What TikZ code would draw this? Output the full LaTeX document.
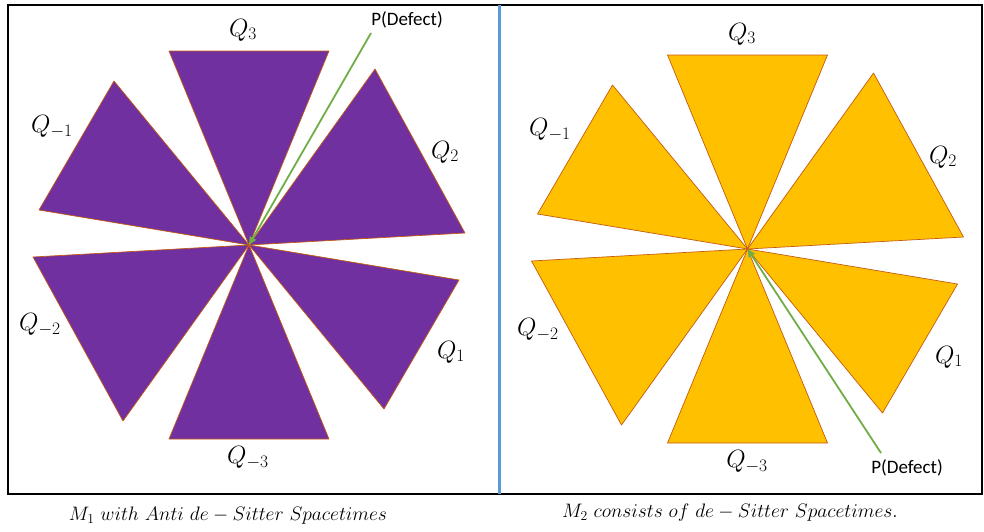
\RequirePackage{fix-cm}
\documentclass[tikz,border=0pt]{standalone}
\usepackage{fontspec}
\newfontfamily\calibri{Carlito}
\usetikzlibrary{arrows.meta, positioning}
\definecolor{moradoOffice}{HTML}{7030A0}
\definecolor{ambarOffice}{HTML}{FFC000}
\definecolor{bordeNaranja}{HTML}{C55A11}
\definecolor{verdeOffice}{HTML}{70AD47}
\definecolor{azulOffice}{HTML}{5B9BD5}
\colorlet{colMarco}{black}
\tikzset{
  sectorBase/.style={draw=bordeNaranja, line width=0.7pt, line join=round},
  sectorMorado/.style={sectorBase, fill=moradoOffice},
  sectorAmbar/.style={sectorBase, fill=ambarOffice},
  flechaDefecto/.style={-{Triangle[length=8pt, width=7pt]}, line width=1.8pt, verdeOffice},
  etiquetaQ/.style={font=\fontsize{25}{29}\selectfont, inner sep=0pt},
  etiquetaDefecto/.style={font=\calibri\fontsize{19}{22}\selectfont, inner sep=0pt},
  pie/.style={font=\fontsize{19.5}{23}\selectfont, inner sep=0pt},
}

\begin{document}
\begin{tikzpicture}[x=1pt, y=-1pt]
  \useasboundingbox (0,0) rectangle (984,531);
  \draw[colMarco, line width=2.4pt] (8,5) rectangle (982,494);
  \draw[azulOffice, line width=2.4pt] (499.5,5) -- (499.5,494);

  % molinete izquierdo (Anti de Sitter)
  \begin{scope}[shift={(249,245)}]
    \coordinate (centroL) at (0,0);
    \foreach \ax/\ay/\bx/\by in {-80/-194/80/-194, 126/-176/216/-12, 210/35/135/164,
                                 80/194/-80/194, -126/176/-216/12, -210/-35/-135/-164}
      \draw[sectorMorado] (0,0) -- (\ax,\ay) -- (\bx,\by) -- cycle;
  \end{scope}

  % molinete derecho (de Sitter)
  \begin{scope}[shift={(747.5,249)}]
    \coordinate (centroR) at (0,0);
    \foreach \ax/\ay/\bx/\by in {-80/-194/80/-194, 126/-176/216/-12, 210/35/135/164,
                                 80/194/-80/194, -126/176/-216/12, -210/-35/-135/-164}
      \draw[sectorAmbar] (0,0) -- (\ax,\ay) -- (\bx,\by) -- cycle;
  \end{scope}

  % etiquetas izquierda
  \node[etiquetaQ] (q3L)  at (243,30)  {$Q_{3}$};
  \node[etiquetaQ] (q2L)  at (445,152) {$Q_{2}$};
  \node[etiquetaQ] (q1L)  at (451,352) {$Q_{1}$};
  \node[etiquetaQ] (qm3L) at (248,458) {$Q_{-3}$};
  \node[etiquetaQ] (qm2L) at (40,325)  {$Q_{-2}$};
  \node[etiquetaQ] (qm1L) at (52,127)  {$Q_{-1}$};
  \node[etiquetaDefecto] (defL) at (407,20) {P(Defect)};
  \coordinate (inicioL) at (371,33);
  \draw[flechaDefecto] (inicioL) -- (centroL);

  % etiquetas derecha
  \node[etiquetaQ] (q3R)  at (742,34)  {$Q_{3}$};
  \node[etiquetaQ] (q2R)  at (943,157) {$Q_{2}$};
  \node[etiquetaQ] (q1R)  at (949,357) {$Q_{1}$};
  \node[etiquetaQ] (qm3R) at (747,462) {$Q_{-3}$};
  \node[etiquetaQ] (qm2R) at (538,330) {$Q_{-2}$};
  \node[etiquetaQ] (qm1R) at (550,130) {$Q_{-1}$};
  \node[etiquetaDefecto] (defR) at (907,468) {P(Defect)};
  \coordinate (inicioR) at (881,453);
  \draw[flechaDefecto] (inicioR) -- (centroR);

  % pies de figura
  \node[pie] (pieL) at (228,516) {$M_{1}\ with\ Anti\ de-Sitter\ Spacetimes$};
  \node[pie] (pieR) at (730,513) {$M_{2}\ consists\ of\ de-Sitter\ Spacetimes.$};
\end{tikzpicture}
\end{document}
